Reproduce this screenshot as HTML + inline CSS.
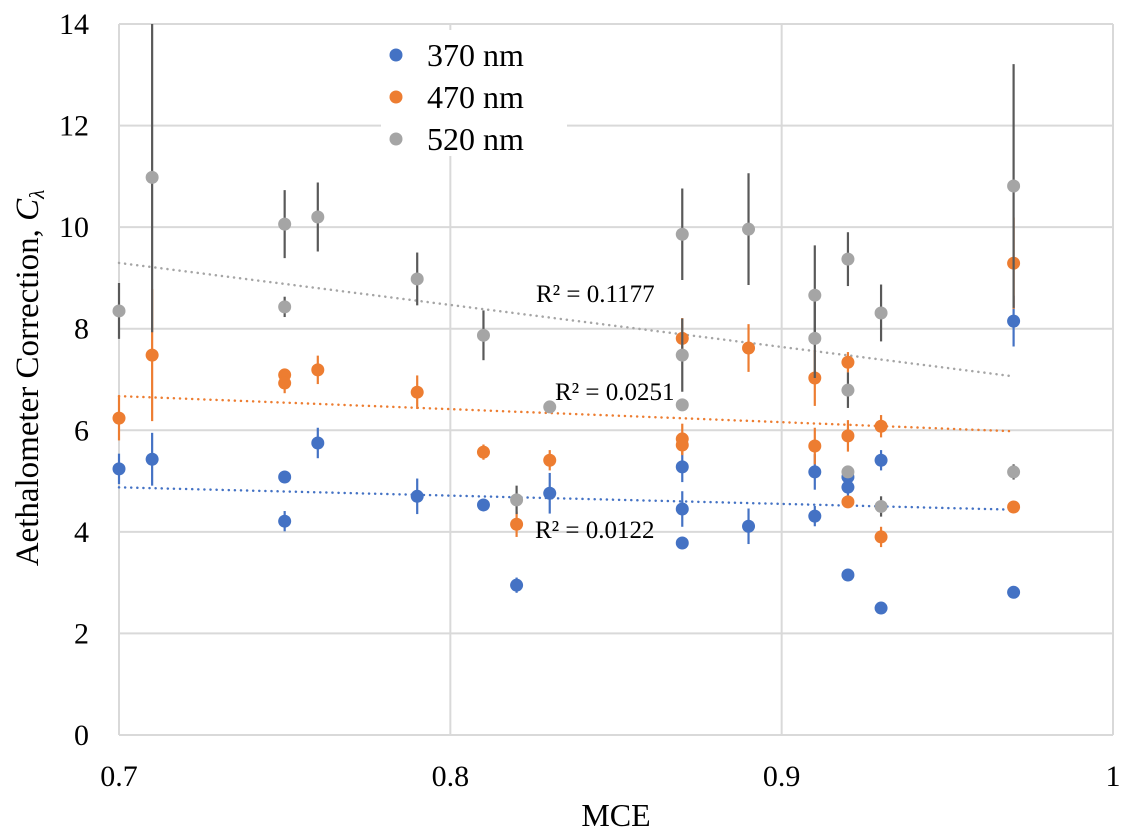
<!DOCTYPE html>
<html><head><meta charset="utf-8"><style>
body{margin:0;background:#fff;}
svg{display:block;font-family:"Liberation Serif",serif;}
</style></head><body>
<svg id="chart" width="1129" height="835" viewBox="0 0 1129 835" xmlns="http://www.w3.org/2000/svg"></svg>
<script>
const xTicks=[0.7,0.8,0.9,1];
const xTickLabels=["0.7","0.8","0.9","1"];
const yTicks=[0,2,4,6,8,10,12,14];
const seriesNames=["370 nm","470 nm","520 nm"];
const r2Labels=["R² = 0.0122","R² = 0.0251","R² = 0.1177"];
const x370=[0.70,0.71,0.75,0.75,0.76,0.79,0.81,0.82,0.83,0.87,0.87,0.87,0.89,0.91,0.91,0.92,0.92,0.92,0.93,0.93,0.97,0.97];
const y370=[5.24,5.43,5.08,4.21,5.75,4.70,4.53,2.95,4.76,5.28,4.45,3.78,4.11,5.18,4.31,4.88,5.08,3.15,5.41,2.50,8.15,2.81];
const e370=[0.3,0.52,0.1,0.2,0.3,0.35,0.05,0.15,0.4,0.3,0.35,0.05,0.35,0.35,0.2,0.2,0.1,0.05,0.2,0.1,0.5,0.05];
const x470=[0.70,0.71,0.75,0.75,0.76,0.79,0.81,0.82,0.83,0.87,0.87,0.87,0.89,0.91,0.91,0.92,0.92,0.92,0.93,0.93,0.97,0.97];
const y470=[6.24,7.48,7.09,6.93,7.19,6.75,5.57,4.15,5.41,7.81,5.83,5.71,7.62,7.03,5.69,7.34,5.89,4.59,6.08,3.90,9.29,4.49];
const e470=[0.44,1.3,0.1,0.2,0.28,0.33,0.15,0.25,0.2,0.4,0.3,0.2,0.47,0.55,0.36,0.2,0.31,0.1,0.22,0.2,0.9,0.05];
const x520=[0.70,0.71,0.75,0.75,0.76,0.79,0.81,0.82,0.83,0.87,0.87,0.87,0.89,0.91,0.91,0.92,0.92,0.92,0.93,0.93,0.97,0.97];
const y520=[8.35,10.98,10.06,8.43,10.20,8.98,7.87,4.63,6.46,9.86,7.48,6.50,9.96,8.66,7.81,9.37,6.79,5.18,8.31,4.50,10.81,5.18];
const e520=[0.55,3.05,0.67,0.2,0.68,0.52,0.49,0.28,0.1,0.9,0.72,0.05,1.1,0.98,0.78,0.53,0.35,0.05,0.56,0.2,2.4,0.15];

const NS="http://www.w3.org/2000/svg";
const svg=document.getElementById('chart');
const L=119,R=1113,T=24,B=735;
const xs=v=>L+(v-0.7)/(1-0.7)*(R-L);
const ys=v=>B-(v/14)*(B-T);
function mk(tag,attrs,parent){const e=document.createElementNS(NS,tag);for(const k in attrs)e.setAttribute(k,attrs[k]);(parent||svg).appendChild(e);return e;}

yTicks.forEach((t,i)=>{
  const ln=mk('line',{x1:L,x2:R,y1:ys(t),y2:ys(t),stroke:'#d9d9d9','stroke-width':2});
  
  
  const tx=mk('text',{x:89,y:ys(t)+10,'text-anchor':'end','font-size':30,fill:'#000'});
  tx.textContent=t;
  
  
});
xTicks.forEach((t,i)=>{
  const ln=mk('line',{x1:xs(t),x2:xs(t),y1:T,y2:B,stroke:'#d9d9d9','stroke-width':2});
  
  
  const tx=mk('text',{x:xs(t),y:786,'text-anchor':'middle','font-size':30,fill:'#000'});
  tx.textContent=xTickLabels[i];
  
  
});

function fit(x,y){const n=x.length;let mx=0,my=0;for(let i=0;i<n;i++){mx+=x[i];my+=y[i];}mx/=n;my/=n;let sxy=0,sxx=0;for(let i=0;i<n;i++){sxy+=(x[i]-mx)*(y[i]-my);sxx+=(x[i]-mx)**2;}const b=sxy/sxx;return [b,my-b*mx];}
const series=[[x370,y370,e370,'#4472c4','#4472c4'],[x470,y470,e470,'#ed7d31','#ed7d31'],[x520,y520,e520,'#a5a5a5','#595959']];
const names=['370','470','520'];
series.forEach((s,si)=>{
  const [b,a]=fit(s[0],s[1]);
  const x0=Math.min(...s[0]),x1=Math.max(...s[0]);
  const tl=mk('line',{x1:xs(x0),y1:ys(a+b*x0),x2:xs(x1),y2:ys(a+b*x1),stroke:s[3],'stroke-width':2.5,'stroke-dasharray':'0.1 6','stroke-linecap':'round'});
  
  
});

series.forEach((s,si)=>{
  const g=mk('g',{});
  
  
  s[0].forEach((xv,i)=>{
    const hi=Math.min(14,s[1][i]+s[2][i]);
    const eb=mk('line',{x1:xs(xv),x2:xs(xv),y1:ys(s[1][i]-s[2][i]),y2:ys(hi),stroke:s[4],'stroke-width':2.2},g);
    
    
  });
  s[0].forEach((xv,i)=>{
    const c=mk('circle',{cx:xs(xv),cy:ys(s[1][i]),r:6.5,fill:s[3]},g);
    
    
  });
});

const r2Pos=[[535,538],[555,400],[536,302]];
r2Labels.forEach((t,i)=>{
  const tx=mk('text',{x:r2Pos[i][0],y:r2Pos[i][1],'font-size':25,fill:'#000'});
  tx.textContent=t;
  
  
});

const lg=mk('g',{});


mk('rect',{x:381,y:30,width:186,height:126,fill:'#fff'},lg);
seriesNames.forEach((n,i)=>{
  const y=55+i*42;
  const c=mk('circle',{cx:396,cy:y,r:6.5,fill:series[i][3]},lg);
  
  
  const tx=mk('text',{x:427,y:y+11,'font-size':32,fill:'#000'},lg);
  tx.textContent=n;
  
  
});

const xt=mk('text',{x:616,y:826,'text-anchor':'middle','font-size':32,fill:'#000'});
xt.textContent='MCE';


const yt=mk('text',{x:0,y:0,'text-anchor':'middle','font-size':33,fill:'#000',transform:'translate(38,378) rotate(-90)'});
yt.innerHTML='Aethalometer Correction, <tspan font-style="italic">C</tspan><tspan font-style="italic" font-size="21" dy="6">λ</tspan>';


</script>
</body></html>
